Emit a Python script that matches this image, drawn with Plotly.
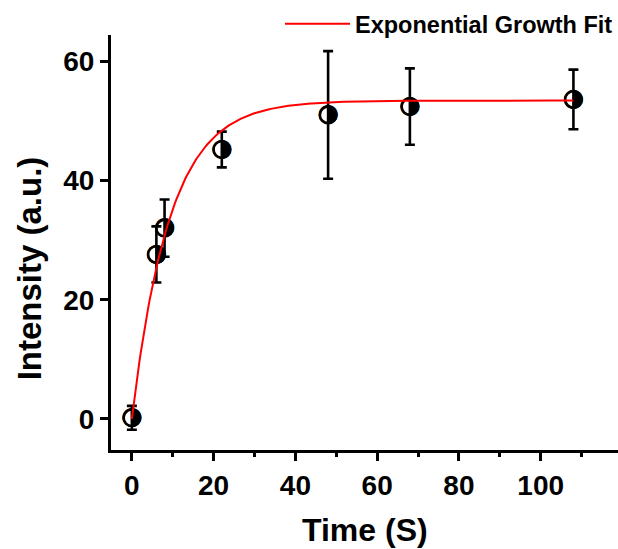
import numpy as np
import plotly.graph_objects as go

# ---- data ----
time_s = [0, 6, 8, 22, 48, 68, 108]
intensity = [0.2, 27.6, 32.0, 45.2, 51.0, 52.4, 53.6]
intensity_err = [2.0, 4.7, 4.8, 3.0, 10.7, 6.4, 5.0]

# exponential growth fit parameters
fit_y0 = 0.0
fit_A = 53.4
fit_t = 9.3
fit_x = np.linspace(0, 108, 300)
fit_y = fit_y0 + fit_A * (1 - np.exp(-fit_x / fit_t))

x_ticks = [0, 20, 40, 60, 80, 100]
y_ticks = [0, 20, 40, 60]

FONT = "Arial, Liberation Sans, sans-serif"

fig = go.Figure()

# half-filled glyph under the ring
fig.add_trace(go.Scatter(
    x=time_s, y=intensity, mode="text", text=["◑"] * len(time_s),
    textposition="middle center",
    textfont=dict(family="DejaVu Sans", size=25, color="black"),
    showlegend=False, hoverinfo="skip",
))
# ring + error bars
fig.add_trace(go.Scatter(
    x=time_s, y=intensity, mode="markers",
    marker=dict(symbol="circle-open", size=16.5, color="black", line=dict(width=2.6, color="black")),
    error_y=dict(type="data", array=intensity_err, visible=True, color="black", thickness=2.6, width=5),
    showlegend=False,
))
# fit line
fig.add_trace(go.Scatter(
    x=fit_x, y=fit_y, mode="lines", name="<b>Exponential Growth Fit</b>",
    line=dict(color="#ff0000", width=2),
    showlegend=True,
))

fig.update_layout(
    width=618, height=549,
    margin=dict(l=111, r=0, t=35, b=99, autoexpand=False),
    paper_bgcolor="white", plot_bgcolor="white",
    font=dict(family=FONT, color="black"),
    legend=dict(
        x=1.0, xanchor="right", xref="container",
        y=1 - 24 / 549, yanchor="middle", yref="container",
        font=dict(family=FONT, size=23.5, color="black"),
        bgcolor="rgba(0,0,0,0)", itemwidth=65,
        borderwidth=0, tracegroupgap=0,
    ),
    annotations=[
        dict(text="<b>Time (S)</b>", xref="paper", yref="paper", x=0.5, y=-0.193,
             xanchor="center", yanchor="middle", showarrow=False,
             font=dict(family=FONT, size=32, color="black")),
        dict(text="<b>Intensity (a.u.)</b>", xref="paper", yref="paper", x=-0.159, y=0.4386,
             xanchor="center", yanchor="middle", textangle=-90, showarrow=False,
             font=dict(family=FONT, size=33, color="black")),
    ],
)

fig.update_xaxes(
    range=[-5.1, 118.9], showgrid=False, zeroline=False,
    showline=True, linecolor="black", linewidth=3,
    ticks="outside", ticklen=8, tickwidth=3, tickcolor="black",
    tickvals=x_ticks, ticktext=[f"<b>{v}</b>" for v in x_ticks],
    tickfont=dict(family=FONT, size=28, color="black"),
    minor=dict(dtick=10, tick0=0, ticks="outside", ticklen=4, tickwidth=3, tickcolor="black", showgrid=False),
)
fig.update_yaxes(
    range=[-5.2, 64.4], showgrid=False, zeroline=False,
    showline=True, linecolor="black", linewidth=3,
    ticks="outside", ticklen=8, tickwidth=3, tickcolor="black",
    tickvals=y_ticks, ticktext=[f"<b>{v}</b>" for v in y_ticks],
    tickfont=dict(family=FONT, size=28, color="black"),
)

fig.write_html("out.html")
